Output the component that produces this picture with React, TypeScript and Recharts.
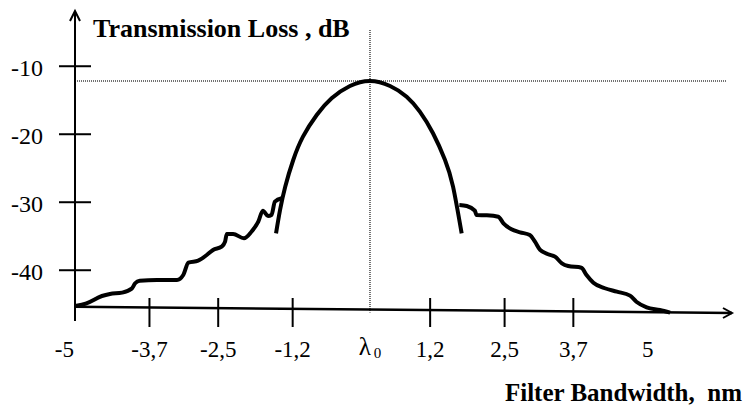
import { LineChart, Line, XAxis, YAxis, ReferenceLine, ReferenceDot } from "recharts";

// x ticks as drawn (λ0 sits a touch right of the linear zero)
const X_TICKS = [-5, -3.7, -2.5, -1.2, 0.15, 1.2, 2.5, 3.7, 5];
const X_TICK_LABELS = ["-5", "-3,7", "-2,5", "-1,2", "λ0", "1,2", "2,5", "3,7", "5"];
const Y_TICKS = [-10, -20, -30, -40];

const PEAK_LEVEL = -12.17;
const LAMBDA_0 = 0.15;

const LEFT_SIDELOBE = [
  { x: -5.0, y: -45.26 },
  { x: -4.8, y: -44.86 },
  { x: -4.53, y: -43.79 },
  { x: -4.39, y: -43.49 },
  { x: -4.18, y: -43.3 },
  { x: -4.01, y: -42.71 },
  { x: -3.95, y: -41.92 },
  { x: -3.87, y: -41.54 },
  { x: -3.57, y: -41.43 },
  { x: -3.22, y: -41.43 },
  { x: -3.11, y: -40.7 },
  { x: -3.02, y: -38.89 },
  { x: -2.85, y: -38.6 },
  { x: -2.7, y: -37.76 },
  { x: -2.59, y: -37.02 },
  { x: -2.44, y: -36.54 },
  { x: -2.38, y: -35.8 },
  { x: -2.35, y: -34.67 },
  { x: -2.24, y: -34.67 },
  { x: -2.05, y: -35.3 },
  { x: -1.92, y: -34.33 },
  { x: -1.8, y: -32.86 },
  { x: -1.72, y: -31.24 },
  { x: -1.63, y: -32.02 },
  { x: -1.57, y: -31.88 },
  { x: -1.51, y: -29.92 },
  { x: -1.39, y: -29.42 },
];

const MAIN_LOBE = [
  { x: -1.49, y: -34.57 },
  { x: -1.42, y: -31.14 },
  { x: -1.33, y: -27.71 },
  { x: -1.19, y: -23.79 },
  { x: -1.02, y: -20.36 },
  { x: -0.78, y: -17.17 },
  { x: -0.52, y: -14.71 },
  { x: -0.2, y: -12.9 },
  { x: 0.15, y: -12.17 },
  { x: 0.5, y: -12.9 },
  { x: 0.79, y: -14.48 },
  { x: 1.02, y: -16.68 },
  { x: 1.25, y: -19.86 },
  { x: 1.46, y: -23.79 },
  { x: 1.6, y: -27.71 },
  { x: 1.75, y: -34.57 },
];

const RIGHT_SIDELOBE = [
  { x: 1.71, y: -30.4 },
  { x: 1.84, y: -30.55 },
  { x: 1.98, y: -31.24 },
  { x: 2.01, y: -31.88 },
  { x: 2.19, y: -31.92 },
  { x: 2.39, y: -32.13 },
  { x: 2.48, y: -33.1 },
  { x: 2.62, y: -33.98 },
  { x: 2.77, y: -34.42 },
  { x: 2.94, y: -34.82 },
  { x: 3.03, y: -35.8 },
  { x: 3.12, y: -37.02 },
  { x: 3.26, y: -37.65 },
  { x: 3.38, y: -38.01 },
  { x: 3.5, y: -38.98 },
  { x: 3.61, y: -39.38 },
  { x: 3.84, y: -39.63 },
  { x: 3.93, y: -40.7 },
  { x: 4.05, y: -41.83 },
  { x: 4.25, y: -42.65 },
  { x: 4.46, y: -43.15 },
  { x: 4.69, y: -43.74 },
  { x: 4.8, y: -44.63 },
  { x: 4.98, y: -45.45 },
  { x: 5.21, y: -45.85 },
  { x: 5.39, y: -46.24 },
];

const FONT = "'Liberation Serif', 'Times New Roman', serif";

function YTick(props: any) {
  const { x, y, payload } = props;
  return (
    <g>
      <line x1={x - 16} x2={x + 16} y1={y} y2={y} stroke="#000" strokeWidth={2} />
      <text x={x - 32} y={y + 10} textAnchor="end" fontFamily={FONT} fontSize={24} fill="#000">
        {payload.value}
      </text>
    </g>
  );
}

function XTick(props: any) {
  const { x, y, payload } = props;
  const i = X_TICKS.indexOf(payload.value);
  const label = X_TICK_LABELS[i];
  const withMark = i > 0 && i < X_TICKS.length - 1 && label !== "λ0";
  if (label === "λ0") {
    return (
      <text x={x} y={y + 25} textAnchor="middle" fontFamily={FONT} fontSize={25} fill="#000">
        λ
        <tspan dx={3} dy={3} fontSize={15}>
          0
        </tspan>
      </text>
    );
  }
  return (
    <g>
      {withMark && <line x1={x} x2={x} y1={y - 32} y2={y - 3} stroke="#000" strokeWidth={2} />}
      <text
        x={i === 0 ? x - 1 : x}
        y={y + 27}
        textAnchor={i === 0 ? "end" : "middle"}
        fontFamily={FONT}
        fontSize={23}
        fill="#000"
      >
        {label}
      </text>
    </g>
  );
}

export default function App() {
  return (
    <div style={{ position: "absolute", left: 0, top: 0, background: "#fff" }}>
      <LineChart width={745} height={406} margin={{ top: 10, right: 13, bottom: 46, left: 0 }}>
        <XAxis
          type="number"
          dataKey="x"
          domain={[-5, 6.47]}
          ticks={X_TICKS}
          interval={0}
          allowDataOverflow
          axisLine={false}
          tickLine={false}
          tickSize={0}
          tickMargin={0}
          height={30}
          tick={<XTick />}
        />
        <YAxis
          type="number"
          dataKey="y"
          domain={[-48.79, -1.73]}
          ticks={Y_TICKS}
          interval={0}
          allowDataOverflow
          axisLine={false}
          tickLine={false}
          tickSize={0}
          tickMargin={0}
          width={75}
          tick={<YTick />}
        />
        {/* dotted guides at the peak */}
        <ReferenceLine
          segment={[{ x: -5, y: PEAK_LEVEL }, { x: 6.38, y: PEAK_LEVEL }]}
          stroke="#444"
          strokeWidth={1.5}
          strokeDasharray="1 1"
          ifOverflow="visible"
        />
        <ReferenceLine
          segment={[{ x: LAMBDA_0, y: -4.67 }, { x: LAMBDA_0, y: -46.2 }]}
          stroke="#444"
          strokeWidth={1.5}
          strokeDasharray="1 1"
          ifOverflow="visible"
        />
        {/* hand-drawn axes: vertical one and the slanted one */}
        <ReferenceLine
          segment={[{ x: -5, y: -1.87 }, { x: -5, y: -47.46 }]}
          stroke="#000"
          strokeWidth={2}
          ifOverflow="visible"
        />
        <ReferenceLine
          segment={[{ x: -5, y: -45.36 }, { x: 6.47, y: -46.29 }]}
          stroke="#000"
          strokeWidth={2.5}
          ifOverflow="visible"
        />
        <ReferenceDot
          x={-5}
          y={-1.87}
          ifOverflow="visible"
          shape={(p: any) => (
            <path
              d={`M${p.cx - 5},${p.cy + 10} L${p.cx},${p.cy} L${p.cx + 5},${p.cy + 10}`}
              stroke="#000"
              strokeWidth={2}
              fill="none"
            />
          )}
        />
        <ReferenceDot
          x={6.47}
          y={-46.29}
          ifOverflow="visible"
          shape={(p: any) => (
            <path
              d={`M${p.cx - 9},${p.cy - 5} L${p.cx},${p.cy} L${p.cx - 9},${p.cy + 5}`}
              stroke="#000"
              strokeWidth={2}
              fill="none"
            />
          )}
        />
        <Line
          data={LEFT_SIDELOBE}
          dataKey="y"
          type="monotone"
          stroke="#000"
          strokeWidth={4}
          dot={false}
          isAnimationActive={false}
        />
        <Line
          data={MAIN_LOBE}
          dataKey="y"
          type="natural"
          stroke="#000"
          strokeWidth={4}
          dot={false}
          isAnimationActive={false}
        />
        <Line
          data={RIGHT_SIDELOBE}
          dataKey="y"
          type="monotone"
          stroke="#000"
          strokeWidth={4}
          dot={false}
          isAnimationActive={false}
        />
        <text x={93} y={37} fontFamily={FONT} fontWeight="bold" fontSize={26} fill="#000">
          Transmission Loss , dB
        </text>
        <text x={742} y={401} textAnchor="end" fontFamily={FONT} fontWeight="bold" fontSize={25} fill="#000" style={{ whiteSpace: "pre" }}>
          Filter Bandwidth,  nm
        </text>
      </LineChart>
    </div>
  );
}
